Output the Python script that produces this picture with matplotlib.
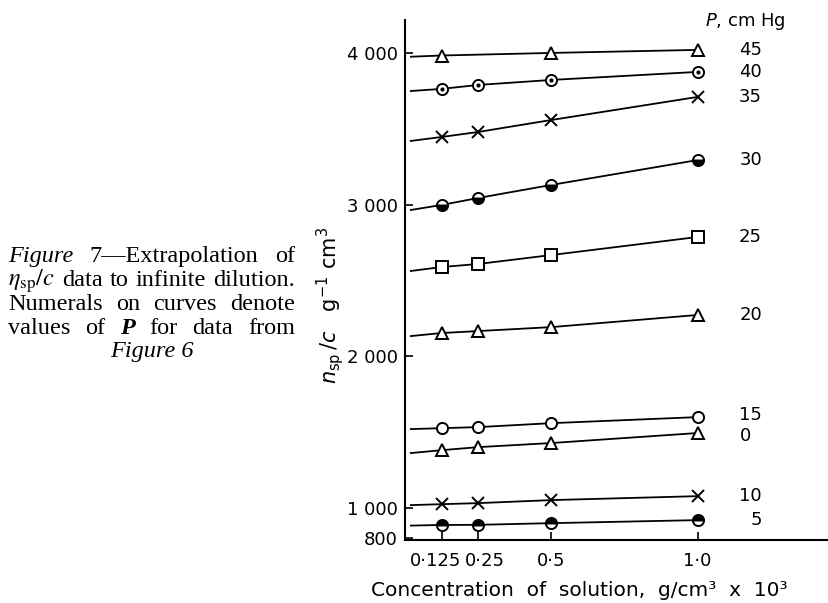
import matplotlib.pyplot as plt
from matplotlib.transforms import IdentityTransform, ScaledTranslation

# concentrations (g/cm3 x 10^3)
conc = [0.125, 0.25, 0.5, 1.0]
conc_45 = [0.125, 0.5, 1.0]

# eta_sp/c values, one list per pressure P (cm Hg)
p45 = [3983, 4000, 4020]
p40 = [3763, 3789, 3822, 3875]
p35 = [3446, 3479, 3558, 3710]
p30 = [2998, 3044, 3130, 3294]
p25 = [2589, 2609, 2668, 2787]
p20 = [2154, 2167, 2193, 2273]
p15 = [1527, 1534, 1560, 1600]
p0 = [1382, 1402, 1429, 1495]
p10 = [1026, 1033, 1053, 1079]
p5 = [889, 890, 901, 921]

# extrapolated values at infinite dilution (start of each line)
extrap = {"45": 3975, "40": 3749, "35": 3420, "30": 2965, "25": 2563,
          "20": 2134, "15": 1521, "0": 1363, "10": 1020, "5": 885}

yticks = [800, 1000, 2000, 3000, 4000]
ytick_labels = ["800", "1 000", "2 000", "3 000", "4 000"]
xticks = [0.125, 0.25, 0.5, 1.0]
xtick_labels = ["0\u00b7125", "0\u00b725", "0\u00b75", "1\u00b70"]

W, H = 829, 603
fig = plt.figure(figsize=(W / 100, H / 100), dpi=100)
ax = fig.add_axes([405 / W, 63 / H, (W - 405) / W, 520 / H])

x_start = 0.02
open_mk = dict(markerfacecolor="white", markeredgecolor="black", markeredgewidth=1.4)
series = [
    ("45", conc_45, p45, dict(marker="^", markersize=9, **open_mk)),
    ("40", conc, p40, dict(marker="o", markersize=8, **open_mk)),
    ("35", conc, p35, dict(marker="x", markersize=8, markeredgewidth=1.4, markeredgecolor="black")),
    ("30", conc, p30, dict(marker="o", markersize=8, fillstyle="bottom", markerfacecolor="black",
                           markerfacecoloralt="white", markeredgecolor="black", markeredgewidth=1.4)),
    ("25", conc, p25, dict(marker="s", markersize=8, **open_mk)),
    ("20", conc, p20, dict(marker="^", markersize=9, **open_mk)),
    ("15", conc, p15, dict(marker="o", markersize=8, **open_mk)),
    ("0", conc, p0, dict(marker="^", markersize=9, **open_mk)),
    ("10", conc, p10, dict(marker="x", markersize=8, markeredgewidth=1.4, markeredgecolor="black")),
    ("5", conc, p5, dict(marker="o", markersize=8, fillstyle="top", markerfacecolor="black",
                         markerfacecoloralt="white", markeredgecolor="black", markeredgewidth=1.4)),
]

# small vertical nudges (points) for the curve numerals that sit close together
nudge = {"15": 1.5, "0": -2.5}

for name, xs, ys, mk in series:
    ax.plot([x_start] + xs, [extrap[name]] + ys, color="black", lw=1.3, zorder=2)
    ax.plot(xs, ys, linestyle="none", zorder=3, **mk)
    if name == "40":
        ax.plot(xs, ys, linestyle="none", marker="o", markersize=2, color="black", zorder=4)
    if name == "0":
        ax.annotate(name, (1.145, ys[-1]), xytext=(0, nudge.get(name, 0)), textcoords="offset points",
                    ha="left", va="center", fontsize=13)
    else:
        ax.annotate(name, (1.22, ys[-1]), xytext=(0, nudge.get(name, 0)), textcoords="offset points",
                    ha="right", va="center", fontsize=13)

ax.text(1.025, 4204, r"$P$, cm Hg", ha="left", va="center", fontsize=13,
        math_fontfamily="dejavusans", clip_on=False)

ax.set_xlim(0, 1.449)
ax.set_ylim(790, 4217)
ax.set_xticks(xticks)
ax.set_xticklabels(xtick_labels)
ax.set_yticks(yticks)
ax.set_yticklabels(ytick_labels)
ax.tick_params(direction="in", length=6, width=1.2, labelsize=13, pad=5)
ax.tick_params(axis="x", pad=9)
# spread the two crowded labels apart a little
for lab, dx in zip(ax.get_xticklabels()[:2], [-6, 7]):
    lab.set_transform(lab.get_transform() + ScaledTranslation(dx / 100, 0, fig.dpi_scale_trans))
for s in ["top", "right"]:
    ax.spines[s].set_visible(False)
for s in ["left", "bottom"]:
    ax.spines[s].set_linewidth(1.5)

fig.text(579 / W, 1 - 591 / H, "Concentration  of  solution,  g/cm\u00b3  x  10\u00b3",
         ha="center", va="center", fontsize=14.5)
fig.text(330 / W, 1 - 305 / H, r"$n_{\rm sp}\,/c\ \ \ \rm g^{-1}\ cm^{3}$", rotation=90,
         ha="center", va="center", fontsize=15, math_fontfamily="dejavusans")

# caption, justified between x=8 and x=295 px
serif = "Liberation Serif"
cap_size = 17.5
styles = {
    "n": dict(family=serif),
    "i": dict(family=serif, style="italic"),
    "bi": dict(family=serif, style="italic", weight="bold"),
    "m": dict(family=serif, math_fontfamily="stix"),
}
caption = [
    (262, [("Figure", "i"), ("7\u2014Extrapolation", "n"), ("of", "n")]),
    (286, [(r"$\eta_{\rm sp}/c$", "m"), ("data", "n"), ("to", "n"), ("infinite", "n"), ("dilution.", "n")]),
    (310, [("Numerals", "n"), ("on", "n"), ("curves", "n"), ("denote", "n")]),
    (334, [("values", "n"), ("of", "n"), ("P", "bi"), ("for", "n"), ("data", "n"), ("from", "n")]),
]
renderer = fig.canvas.get_renderer()
x0, x1 = 8, 295
for ybase, words in caption:
    texts = [fig.text(0, H - ybase, w, transform=IdentityTransform(), fontsize=cap_size,
                      va="baseline", ha="left", **styles[st]) for w, st in words]
    widths = [t.get_window_extent(renderer).width for t in texts]
    gap = (x1 - x0 - sum(widths)) / (len(texts) - 1)
    x = x0
    for t, w in zip(texts, widths):
        t.set_x(x)
        x += w + gap
fig.text(152, H - 357, "Figure 6", transform=IdentityTransform(), fontsize=cap_size,
         va="baseline", ha="center", family=serif, style="italic")

fig.savefig("out.png", dpi=100)
